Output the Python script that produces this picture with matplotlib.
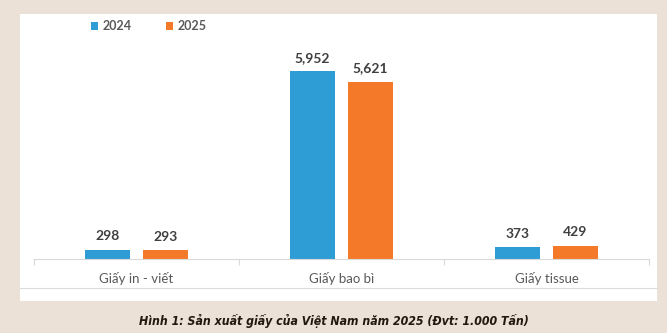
import matplotlib
matplotlib.use('Agg')
import matplotlib.pyplot as plt
import numpy as np
from matplotlib.patches import Rectangle
from matplotlib.lines import Line2D

categories = ["Giấy in - viết", "Giấy bao bì", "Giấy tissue"]
years = ["2024", "2025"]
values_2024 = [298, 5952, 373]
values_2025 = [293, 5621, 429]
caption = "Hình 1: Sản xuất giấy của Việt Nam năm 2025 (Đvt: 1.000 Tấn)"

blue = '#2e9dd6'
orange = '#f47a29'
bg = '#ebe1d6'

plt.rcParams['font.family'] = ['Lato', 'DejaVu Sans']

fig = plt.figure(figsize=(6.67, 3.33), dpi=100)
fig.patch.set_facecolor(bg)

# white panel behind the chart
fig.add_artist(Rectangle((0.030, 0.096), 0.955, 0.862, transform=fig.transFigure,
                         facecolor='white', edgecolor='none', zorder=0))
fig.add_artist(Line2D([0.030, 0.985], [0.134, 0.134], transform=fig.transFigure,
                      color='#dcdcdc', lw=0.8))

ax = fig.add_axes([0.051, 0.222, 0.922, 0.664])
ax.set_facecolor('none')

x = np.arange(len(categories))
w = 0.224
off = 0.1415
b1 = ax.bar(x - off, values_2024, w, color=blue, label=years[0])
b2 = ax.bar(x + off, values_2025, w, color=orange, label=years[1])

for bars, vals in ((b1, values_2024), (b2, values_2025)):
    for r, v in zip(bars, vals):
        ax.text(r.get_x() + r.get_width() / 2, v + 230, f"{v:,}",
                ha='center', va='bottom', fontsize=10, fontweight='bold', color='#3f3f3f')

ax.set_xlim(-0.5, 2.5)
ax.set_ylim(0, 7000)
ax.set_yticks([])
for s in ['top', 'right', 'left']:
    ax.spines[s].set_visible(False)
ax.spines['bottom'].set_color('#d9d9d9')
ax.set_xticks([-0.5, 0.5, 1.5, 2.5])
ax.set_xticklabels([])
ax.tick_params(axis='x', length=4, color='#d9d9d9')
for i, c in enumerate(categories):
    ax.text(i, -0.09, c, transform=ax.get_xaxis_transform(), ha='center', va='center',
            fontsize=9.5, color='#595959')

leg = fig.legend(handles=[b1, b2], labels=years, loc='center left',
                 bbox_to_anchor=(0.132, 0.922), ncol=2, frameon=False,
                 handlelength=0.6, handleheight=0.6, columnspacing=2.75,
                 handletextpad=0.35, borderaxespad=0.0, borderpad=0.2,
                 prop={'weight': 'bold', 'size': 9})
for t in leg.get_texts():
    t.set_color('#595959')

fig.text(0.5, 0.036, caption, ha='center', va='center', fontsize=8.8,
         fontweight='bold', fontstyle='italic', fontstretch='condensed',
         color='#24170f', family='DejaVu Sans')

fig.savefig('out.png', dpi=100, facecolor=fig.get_facecolor())
